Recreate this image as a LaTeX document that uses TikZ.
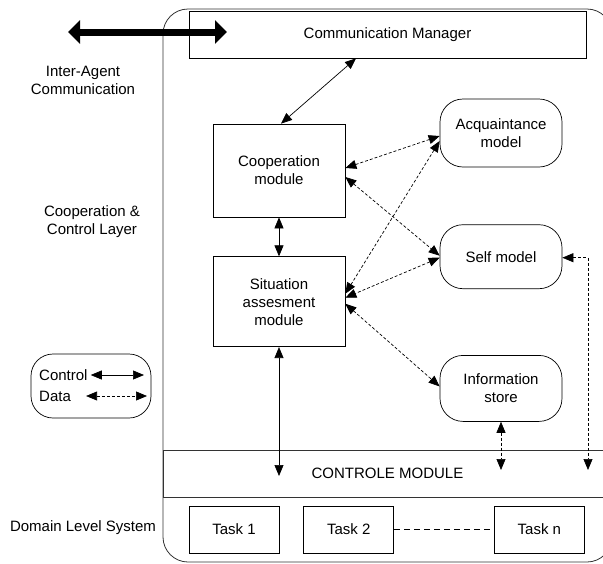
\documentclass[tikz,border=0pt]{standalone}
\usepackage{fontspec}
\setmainfont{Liberation Sans}
\usetikzlibrary{positioning, arrows.meta}

\begin{document}
\begin{tikzpicture}[
    x=1pt, y=-1pt,
    node distance=39pt and 24pt,
    every node/.style={
        align=center,
        inner sep=0pt,
        font=\fontsize{15}{18}\selectfont
    },
    frame/.style={draw=black!80, line width=0.8pt},
    module/.style={draw, line width=0.7pt, minimum width=132pt},
    model/.style={draw, line width=0.7pt, rounded corners=23pt, minimum width=122pt},
    task/.style={draw, line width=0.7pt, minimum width=90pt, minimum height=47pt},
    link/.style={{Triangle[length=11pt,width=9pt]}-{Triangle[length=11pt,width=9pt]}, line width=0.7pt},
    datalink/.style={link, dash pattern=on 3pt off 2pt},
    extlink/.style={{Triangle[length=12pt,width=23pt]}-{Triangle[length=12pt,width=23pt]}, line width=7pt}
]
\useasboundingbox (0,0) rectangle (603,563);

%  Agent frame
\node (agent) [frame, rounded corners=25pt, minimum width=449pt, minimum height=553pt] at (387.5,285.5) {};
\node (comm) [module, minimum width=397pt, minimum height=47pt] at (387.5,34.5) {Communication Manager};

%  Modules
\node (coop) [module, minimum height=93pt] at (279,170.5) {Cooperation\\module};
\node (sit) [module, minimum height=90pt, below=39pt of coop] {Situation\\assesment\\module};

%  Models
\node (acq) [model, minimum height=68pt] at (501,133) {Acquaintance\\model};
\node (self) [model, minimum height=64pt, below=57pt of acq] {Self model};
\node (info) [model, minimum height=66pt, below=66pt of self] {Information\\store};

%  Control module and tasks
\node (ctrl) [frame, minimum width=449pt, minimum height=47pt] at (387.5,473.5) {CONTROLE MODULE};
\node (task1) [task] at (234,529.5) {Task 1};
\node (task2) [task, right=24pt of task1] {Task 2};
\node (taskn) [task, right=100pt of task2] {Task n};

%  Layer labels
\node (inter) at (83,80) {Inter-Agent\\Communication};
\node (layer) at (92,222) {Cooperation \&\\Control Layer};
\node (domain) at (83,528) {Domain Level System};

%  Legend
\node (legend) [draw, line width=0.7pt, rounded corners=22pt, minimum width=120pt, minimum height=64pt] at (91,386) {};
\node (ctltxt) [anchor=west] at (39,375) {Control};
\node (datatxt) [anchor=west] at (39,396) {Data};
\coordinate (ctlend) at (144,375);
\coordinate (dataend) at (147,396);
\draw[link] ([xshift=3pt]ctltxt.east) -- (ctlend);
\draw[datalink] ([xshift=15pt]datatxt.east) -- (dataend);

%  Inter-agent link
\coordinate (ext) at (68,32);
\coordinate (extin) at (227,32);
\draw[extlink] (ext) -- (extin);

%  Control arrows
\draw[link] ([xshift=-31.5pt]comm.south) -- ([xshift=2pt]coop.north);
\draw[link] (coop) -- (sit);
\draw[link] (sit.south) -- ([yshift=-2.5pt]sit.south |- ctrl.center);

%  Data arrows
\draw[datalink] ([yshift=2.5pt]coop.east) -- ([yshift=-3pt]acq.west);
\draw[datalink] ([yshift=-6.5pt]coop.east) -- ([yshift=1pt]self.west);
\draw[datalink] ([yshift=-8pt]acq.west) -- ([yshift=8pt]sit.east);
\draw[datalink] ([yshift=-1pt]self.west) -- ([yshift=4pt]sit.east);
\draw[datalink] ([yshift=-2pt]sit.east) -- ([yshift=2pt]info.west);
\draw[datalink] ([yshift=-1pt]self.east) -| ([xshift=200.5pt,yshift=3.5pt]ctrl.center);
\draw[datalink] (info.south) -- ([yshift=3.5pt]info.south |- ctrl.center);

%  Task chain
\draw[dash pattern=on 6pt off 4pt, line width=0.7pt] (task2) -- (taskn);

\end{tikzpicture}
\end{document}
